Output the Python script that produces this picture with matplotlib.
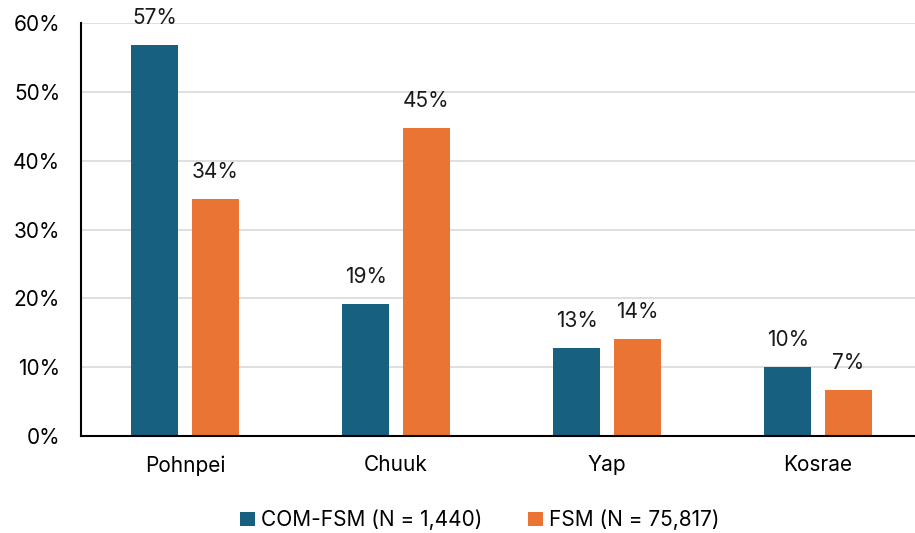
import matplotlib
matplotlib.use("Agg")
import matplotlib.pyplot as plt
import numpy as np

categories = ["Pohnpei", "Chuuk", "Yap", "Kosrae"]
com_fsm = [56.8, 19.2, 12.8, 10.0]
fsm = [34.4, 44.7, 14.1, 6.7]
series_names = ["COM-FSM (N = 1,440)", "FSM (N = 75,817)"]
yticks = [0, 10, 20, 30, 40, 50, 60]

plt.rcParams['font.family'] = ['Inter', 'DejaVu Sans']
blue = "#17607f"
orange = "#ea7434"
fs = 15

fig = plt.figure(figsize=(9.15, 5.33), dpi=100)
ax = fig.add_axes([81/915, 97/533, 1 - 81/915, (436-23)/533])

x = np.arange(len(categories))
w = 0.223
off = 0.143
b1 = ax.bar(x - off, com_fsm, w, color=blue, label=series_names[0], zorder=3)
b2 = ax.bar(x + off, fsm, w, color=orange, label=series_names[1], zorder=3)
for bars, vals in ((b1, com_fsm), (b2, fsm)):
    for r, v in zip(bars, vals):
        ax.text(r.get_x() + r.get_width()/2, v + 2.5, f"{round(v):.0f}%",
                ha="center", va="bottom", fontsize=fs, color="#1a1a1a")

ax.set_ylim(0, 60)
ax.set_xlim(-0.493, 3.46)
ax.set_yticks(yticks)
ax.set_yticklabels([f"{t}%" for t in yticks], fontsize=fs)
ax.set_xticks(x)
ax.set_xticklabels(categories, fontsize=fs)
ax.tick_params(axis='y', length=0, pad=15)
ax.tick_params(axis='x', length=0, pad=14)
ax.grid(axis='y', color="#d9d9d9", linewidth=1.2, zorder=0)
for s in ["top", "right"]:
    ax.spines[s].set_visible(False)
ax.spines["left"].set_color("black")
ax.spines["left"].set_linewidth(1.5)
ax.spines["bottom"].set_color("black")
ax.spines["bottom"].set_linewidth(1.5)
ax.spines["left"].set_zorder(4)
ax.spines["bottom"].set_zorder(4)
ax.set_axisbelow(True)

leg = fig.legend(handles=[b1, b2], labels=series_names, loc="center",
                 bbox_to_anchor=(480/915, 1 - 520/533), ncol=2, frameon=False,
                 fontsize=fs, handlelength=0.7, handleheight=0.7,
                 handletextpad=0.3, columnspacing=2.2)

fig.savefig("out.png", dpi=100)
